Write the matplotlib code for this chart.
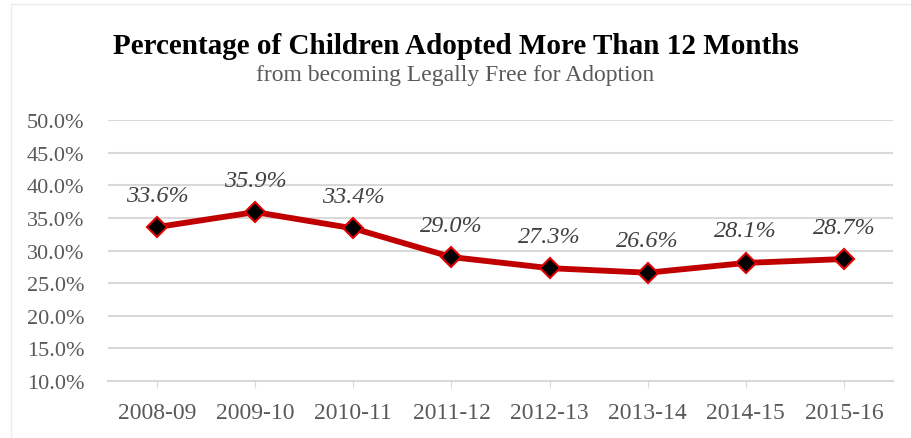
import matplotlib.pyplot as plt
from matplotlib.patches import Rectangle

years = ["2008-09", "2009-10", "2010-11", "2011-12",
         "2012-13", "2013-14", "2014-15", "2015-16"]
pct = [33.6, 35.9, 33.4, 29.0, 27.3, 26.6, 28.1, 28.7]
yticks = [10, 15, 20, 25, 30, 35, 40, 45, 50]

plt.rcParams["font.family"] = ["Liberation Serif", "DejaVu Serif"]

fig = plt.figure(figsize=(9.11, 4.39), dpi=100)
ax = fig.add_axes([0.1186, 0.130, 0.8616, 0.594])

# faint chart border
fig.patches.append(Rectangle((0.012, -0.02), 0.99, 1.008, transform=fig.transFigure,
                             fill=False, edgecolor="#ececec", linewidth=1))

x = list(range(len(years)))
ax.plot(x, pct, color="#c00000", linewidth=4.2, zorder=3,
        marker="D", markersize=10, markerfacecolor="black",
        markeredgecolor="#e00000", markeredgewidth=1.5)

for xi, v in zip(x, pct):
    ax.annotate(f"{v:.1f}%", (xi, v), xytext=(0, 23), textcoords="offset points",
                ha="center", va="center", fontsize=17.5, style="italic", color="#404040")

ax.set_xlim(-0.5, len(years) - 0.5)
ax.set_ylim(10, 50)
ax.set_yticks(yticks)
ax.set_yticklabels([f"{t:.1f}%" for t in yticks])
ax.set_xticks(x)
ax.set_xticklabels(years)
ax.grid(axis="y", color="#d9d9d9", linewidth=1.5)
ax.set_axisbelow(True)
for s in ["top", "right", "left"]:
    ax.spines[s].set_visible(False)
ax.spines["bottom"].set_color("#d9d9d9")
ax.spines["bottom"].set_linewidth(1.5)
ax.tick_params(axis="y", length=0, pad=17, labelsize=16, labelcolor="#595959")
ax.tick_params(axis="x", length=5, color="#d9d9d9", pad=10, labelsize=17,
               labelcolor="#595959")

fig.text(0.5, 0.895, "Percentage of Children Adopted More Than 12 Months",
         ha="center", va="center", fontsize=21, fontweight="bold", color="black")
fig.text(0.5, 0.828, "from becoming Legally Free for Adoption",
         ha="center", va="center", fontsize=17, color="#595959")

fig.savefig("out.png", dpi=100)
